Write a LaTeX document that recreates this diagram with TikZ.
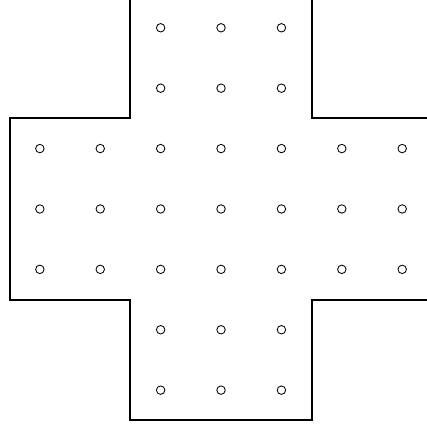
\documentclass[tikz,border=0pt]{standalone}
\usepackage{tikz}
\usetikzlibrary{positioning, calc}
\tikzstyle{Hole} = [
circle,
draw,
thin,
inner sep=0pt,
minimum size=0.14cm]
\tikzstyle{Board} = [
line width=0.9pt,
black]

\begin{document}
\begin{tikzpicture}
    \useasboundingbox (-3.66,-3.66) rectangle (3.41,3.46);
    \clip (-3.66,-3.66) rectangle (3.41,3.46);

    \draw[Board] (-1.5,3.5) -- (-1.5,1.5) -- (-3.5,1.5) -- (-3.5,-1.5)
        -- (-1.5,-1.5) -- (-1.5,-3.5) -- (1.5,-3.5) -- (1.5,-1.5)
        -- (3.5,-1.5) -- (3.5,1.5) -- (1.5,1.5) -- (1.5,3.5);

    \foreach \x in {-3,...,3}
        \foreach \y in {-3,...,3} {
            \pgfmathtruncatemacro{\ax}{abs(\x)}
            \pgfmathtruncatemacro{\ay}{abs(\y)}
            \ifnum\ax>1 \ifnum\ay>1 \else
                \node[Hole] (h\x\y) at (\x,\y) {};
            \fi \else
                \node[Hole] (h\x\y) at (\x,\y) {};
            \fi
        }
\end{tikzpicture}
\end{document}
